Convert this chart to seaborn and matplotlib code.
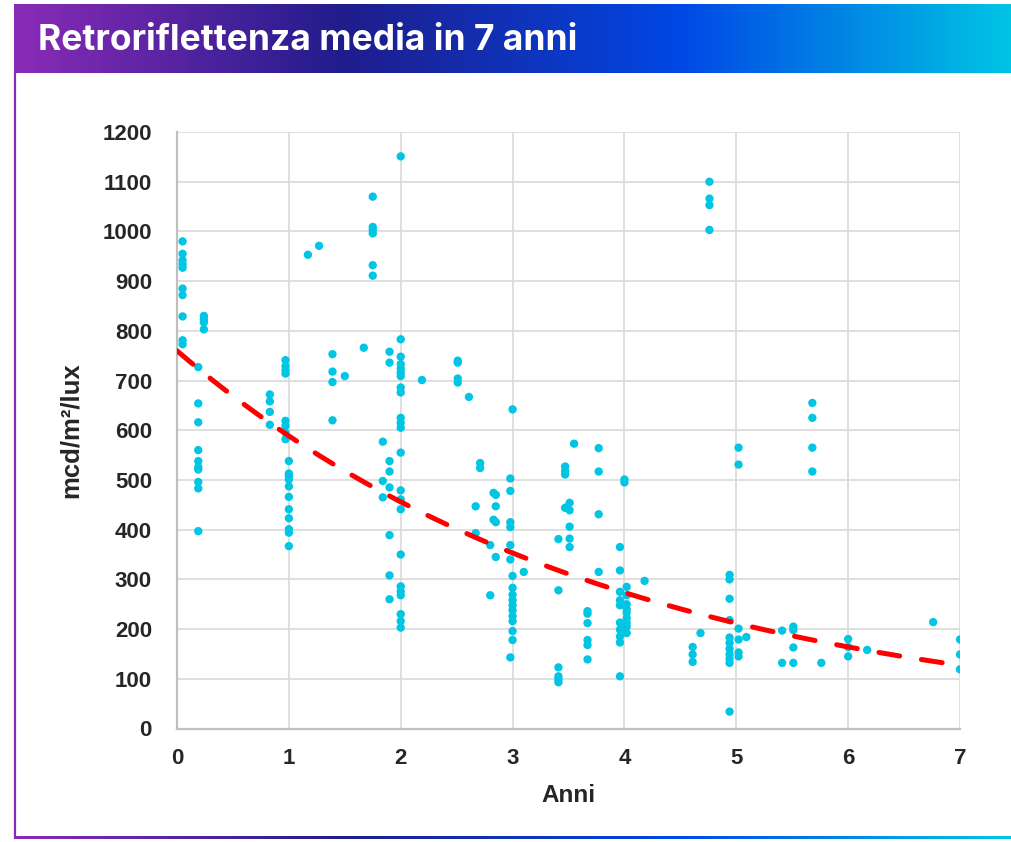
import numpy as np
import pandas as pd
import seaborn as sns
import matplotlib.pyplot as plt
from matplotlib.colors import LinearSegmentedColormap
from matplotlib.lines import Line2D

# ------- data (anni, mcd/m2/lux) -------
anni = [
    0.05, 0.05, 0.05, 0.05, 0.05, 0.05, 0.05, 0.05, 0.05, 0.05,
    0.19, 0.19, 0.19, 0.19, 0.19, 0.19, 0.19, 0.19, 0.19, 0.19,
    0.24, 0.24, 0.24, 0.24,
    0.83, 0.83, 0.83, 0.83,
    0.97, 0.97, 0.97, 0.97, 0.97, 0.97, 0.97, 0.97,
    1.0, 1.0, 1.0, 1.0, 1.0, 1.0, 1.0, 1.0, 1.0, 1.0, 1.0,
    1.17, 1.27,
    1.39, 1.39, 1.39, 1.39,
    1.50, 1.67,
    1.75, 1.75, 1.75, 1.75, 1.75, 1.75,
    1.84, 1.84, 1.84,
    1.90, 1.90, 1.90, 1.90, 1.90, 1.90, 1.90, 1.90,
    2.0, 2.0, 2.0, 2.0, 2.0, 2.0, 2.0, 2.0, 2.0, 2.0, 2.0, 2.0,
    2.0, 2.0, 2.0, 2.0, 2.0, 2.0, 2.0, 2.0, 2.0, 2.0, 2.0,
    2.19,
    2.51, 2.51, 2.51, 2.51,
    2.61,
    2.67, 2.67,
    2.71, 2.71,
    2.80, 2.80,
    2.83, 2.83,
    2.85, 2.85, 2.85, 2.85,
    2.98, 2.98, 2.98, 2.98, 2.98, 2.98, 2.98,
    3.0, 3.0, 3.0, 3.0, 3.0, 3.0, 3.0, 3.0, 3.0, 3.0, 3.0,
    3.10,
    3.41, 3.41, 3.41, 3.41, 3.41, 3.41,
    3.47, 3.47, 3.47, 3.47,
    3.51, 3.51, 3.51, 3.51, 3.51,
    3.55,
    3.67, 3.67, 3.67, 3.67, 3.67, 3.67,
    3.77, 3.77, 3.77, 3.77,
    3.96, 3.96, 3.96, 3.96, 3.96, 3.96, 3.96, 3.96, 3.96, 3.96,
    4.0, 4.0,
    4.02, 4.02, 4.02, 4.02, 4.02, 4.02, 4.02, 4.02, 4.02,
    4.18,
    4.61, 4.61, 4.61,
    4.68,
    4.76, 4.76, 4.76, 4.76,
    4.94, 4.94, 4.94, 4.94, 4.94, 4.94, 4.94, 4.94, 4.94, 4.94, 4.94,
    5.02, 5.02, 5.02, 5.02, 5.02, 5.02,
    5.09,
    5.41, 5.41,
    5.51, 5.51, 5.51, 5.51,
    5.68, 5.68, 5.68, 5.68,
    5.76,
    6.0, 6.0, 6.0,
    6.17,
    6.76,
    7.0, 7.0, 7.0,
]

retro = [
    980, 955, 942, 934, 927, 885, 872, 829, 781, 773,
    727, 654, 616, 560, 538, 526, 521, 496, 483, 397,
    830, 823, 817, 803,
    672, 658, 637, 611,
    741, 729, 721, 714, 619, 609, 595, 582,
    538, 513, 508, 501, 487, 466, 441, 423, 401, 394, 367,
    953, 971,
    753, 718, 697, 620,
    709, 766,
    1070, 1009, 1003, 996, 932, 911,
    577, 498, 465,
    758, 736, 538, 517, 485, 389, 308, 260,
    1151, 783, 748, 733, 724, 716, 709, 686, 676, 625, 615, 605,
    555, 479, 461, 441, 350, 286, 276, 268, 230, 216, 203,
    701,
    740, 736, 704, 696,
    667,
    447, 393,
    534, 524,
    369, 268,
    474, 420,
    470, 447, 415, 345,
    503, 478, 415, 405, 369, 340, 143,
    642, 307, 283, 269, 258, 248, 238, 226, 216, 196, 178,
    315,
    381, 278, 123, 105, 99, 93,
    527, 518, 511, 444,
    454, 439, 406, 382, 365,
    573,
    231, 212, 178, 168, 139, 236,
    564, 517, 431, 315,
    365, 318, 275, 258, 248, 213, 199, 185, 173, 105,
    501, 495,
    285, 268, 250, 240, 233, 222, 212, 205, 192,
    297,
    164, 149, 134,
    192,
    1100, 1066, 1053, 1003,
    309, 300, 261, 218, 183, 172, 160, 149, 140, 132, 34,
    565, 531, 201, 179, 153, 145,
    184,
    197, 132,
    205, 198, 163, 132,
    655, 625, 565, 517,
    132,
    180, 164, 145,
    158,
    214,
    179, 149, 119,
]

# exponential trendline as shown on the chart: y = a * exp(b * x)
trend_a = 760
trend_b = -0.2555

x_ticks = [0, 1, 2, 3, 4, 5, 6, 7]
y_ticks = [0, 100, 200, 300, 400, 500, 600, 700, 800, 900, 1000, 1100, 1200]

df = pd.DataFrame({"Anni": anni, "Retro": retro})
trend_x = np.linspace(0, 7, 200)
trend = pd.DataFrame({"Anni": trend_x, "Retro": trend_a * np.exp(trend_b * trend_x)})

# ------- figure -------
sns.set_theme(style="whitegrid")
plt.rcParams["font.family"] = ["Liberation Sans", "DejaVu Sans"]

fig = plt.figure(figsize=(10.11, 8.42), dpi=100)
W, H = 1011, 842

grad = LinearSegmentedColormap.from_list(
    "brand", [(0, "#8A2BB7"), (0.33, "#201C8B"), (0.67, "#0048E5"), (1, "#00C4E4")])
ramp = np.linspace(0, 1, 512).reshape(1, -1)

# title bar
bar = fig.add_axes([14 / W, 1 - 73 / H, 997 / W, 69 / H])
bar.imshow(ramp, cmap=grad, aspect="auto", extent=[0, 1, 0, 1])
bar.set_axis_off()
bar.text(0.024, 0.47, "Retroriflettenza media in 7 anni", color="white",
         fontsize=25.5, fontweight="bold", family=["Inter", "DejaVu Sans"],
         va="center", ha="left")

# frame: purple left edge + gradient bottom edge
fig.add_artist(Line2D([15 / W, 15 / W], [1 - 73 / H, 1 - 838 / H],
                      color="#8A2BB7", lw=1.6))
bottom = fig.add_axes([14 / W, 1 - 839 / H, 997 / W, 3 / H])
bottom.imshow(ramp, cmap=grad, aspect="auto", extent=[0, 1, 0, 1])
bottom.set_axis_off()

ax = fig.add_axes([177 / W, 1 - 728.5 / H, 783 / W, 596.5 / H])
sns.scatterplot(data=df, x="Anni", y="Retro", ax=ax, color="#00C5E3",
                s=36, edgecolor="none", zorder=3)
sns.lineplot(data=trend, x="Anni", y="Retro", ax=ax, color="#FF0000",
             lw=3.6, zorder=4)
ax.lines[-1].set_linestyle((0, (4.2, 4.4)))
ax.lines[-1].set_dash_capstyle("round")

ax.set_xlim(0, 7)
ax.set_ylim(0, 1200)
ax.set_xticks(x_ticks)
ax.set_yticks(y_ticks)
ax.grid(True, color="#D9D9D9", lw=1.2)
ax.set_axisbelow(True)
for side in ["top", "right"]:
    ax.spines[side].set_visible(False)
for side in ["left", "bottom"]:
    ax.spines[side].set_color("#BFBFBF")
    ax.spines[side].set_linewidth(1.6)

ax.tick_params(axis="both", length=0, labelsize=16, labelcolor="#262626")
ax.tick_params(axis="y", pad=18)
ax.tick_params(axis="x", pad=14)
for lab in ax.get_xticklabels() + ax.get_yticklabels():
    lab.set_fontweight("bold")

ax.set_xlabel("Anni", fontsize=17.5, fontweight="bold", color="#262626")
ax.set_ylabel("mcd/m²/lux", fontsize=18.5, fontweight="bold", color="#262626")
ax.xaxis.set_label_coords(0.5, -0.093)
ax.yaxis.set_label_coords(-0.121, 0.5)

fig.savefig("out.png", dpi=100)
